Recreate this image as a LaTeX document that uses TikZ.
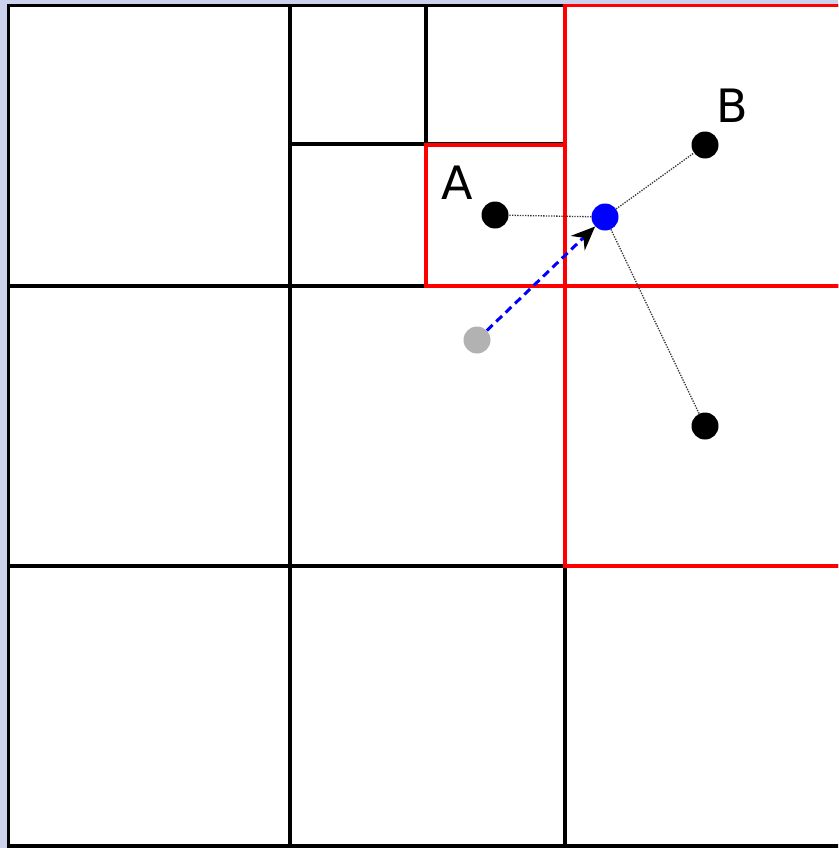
\documentclass[tikz,border=0pt]{standalone}
\usepackage{fontspec}
\setmainfont{DejaVu Sans}
\usetikzlibrary{arrows.meta}
\definecolor{bgl}{RGB}{205,210,236}
\definecolor{dotgray}{RGB}{178,178,178}
\begin{document}
\begin{tikzpicture}[x=1pt,y=-1pt,
  grid/.style={line width=3.5pt,black},
  redbox/.style={line width=3.5pt,red},
  dot/.style={circle,fill=black,minimum size=27pt,inner sep=0pt},
  link/.style={line width=1.3pt,dash pattern=on 1.3pt off 1.3pt,black!80},
  lab/.style={font=\fontsize{46}{50}\selectfont,inner sep=0pt}]
\useasboundingbox (0,0) rectangle (838,848);
\clip (0,0) rectangle (838,848);
\fill[bgl] (0,0) rectangle (838,848);
\fill[white] (8.5,5.5) rectangle (846,846);
% black grid
\draw[grid] (8.5,5.5) rectangle (845,846);
\draw[grid] (290,5.5) -- (290,846);
\draw[grid] (565,5.5) -- (565,846);
\draw[grid] (8.5,286) -- (845,286);
\draw[grid] (8.5,566) -- (845,566);
\draw[grid] (426,5.5) -- (426,286);
\draw[grid] (290,144) -- (565,144);
% red cells
\draw[redbox] (426,145) rectangle (565,286);
\draw[redbox] (565,5.5) rectangle (845,286);
\draw[redbox] (565,286) rectangle (845,566);
% labels
\node[lab] (la) at (457,183) {A};
\node[lab] (lb) at (732,106) {B};
% points
\node[dot] (a) at (495,215) {};
\node[dot] (b) at (705,145) {};
\node[dot] (c) at (705,426) {};
\node[dot,fill=blue] (p) at (605,217) {};
\node[dot,fill=dotgray] (g) at (477,340) {};
% links
\draw[link] (p) -- (a);
\draw[link] (p) -- (b);
\draw[link] (p) -- (c);
% move arrow
\draw[blue,line width=3pt,dash pattern=on 8pt off 5pt,
  -{Stealth[length=24pt,width=20pt,black]}] (g) -- (p);
\end{tikzpicture}
\end{document}
